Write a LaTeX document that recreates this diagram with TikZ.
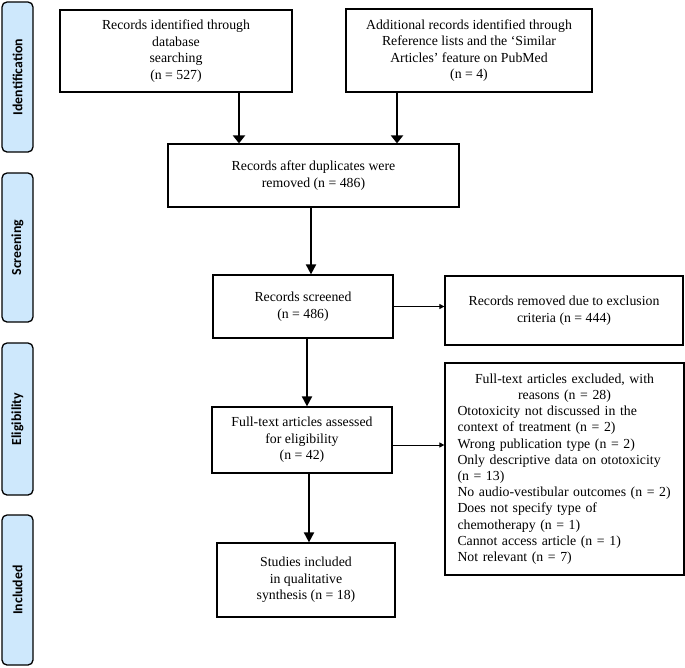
\documentclass[tikz,border=0pt]{standalone}
\usepackage{fontspec}
\setmainfont{Liberation Serif}
\newfontfamily\lblfont{Carlito}
\usetikzlibrary{arrows.meta}
\definecolor{phasefill}{RGB}{206,232,252}
\begin{document}
\begin{tikzpicture}[x=1pt,y=-1pt,
  phase/.style={draw=black,line width=1.3pt,fill=phasefill,rounded corners=5pt,rotate=90,
    minimum height=31pt,inner sep=0pt,font=\lblfont\bfseries\fontsize{13.8}{16}\selectfont},
  flowbox/.style={draw=black,line width=1.2pt,inner sep=0pt,align=center,
    font=\fontsize{13.8}{16.5}\selectfont},
  bigarrow/.style={line width=2.2pt,-{Triangle[width=12pt,length=8pt]}},
  midarrow/.style={line width=1.8pt,-{Triangle[width=10pt,length=10pt]}},
  thinarrow/.style={line width=1pt,-{Triangle[width=5pt,length=5pt]}}]
\useasboundingbox (0,0) rectangle (685,667);

% phase labels
\node[phase,minimum width=150pt] (pid) at (17.5,77) {Identification};
\node[phase,minimum width=149pt] (psc) at (17.5,247.5) {Screening};
\node[phase,minimum width=152pt] (pel) at (17.5,419) {Eligibility};
\node[phase,minimum width=150pt] (pin) at (17.5,590) {Included};

% boxes
\node[flowbox,minimum width=232pt,minimum height=82pt] (b1) at (176,51)
  {Records identified through\\database\\searching\\(n = 527)};
\node[flowbox,minimum width=246pt,minimum height=83pt] (b2) at (469,50.5)
  {Additional records identified through\\Reference lists and the ‘Similar\\Articles’ feature on PubMed\\(n = 4)};
\node[flowbox,minimum width=291pt,minimum height=63pt] (b3) at (313.5,175.5)
  {Records after duplicates were\\removed (n = 486)};
\node[flowbox,minimum width=180pt,minimum height=63pt] (b4) at (303,306.5)
  {Records screened\\(n = 486)};
\node[flowbox,minimum width=238pt,minimum height=69pt] (b5) at (564,310.5)
  {Records removed due to exclusion\\criteria (n = 444)};
\node[flowbox,minimum width=180pt,minimum height=66pt] (b6) at (302,440)
  {Full-text articles assessed\\for eligibility\\(n = 42)};
\node[flowbox,minimum width=239pt,minimum height=212pt,text width=214pt,
  font=\fontsize{13.8}{16.2}\selectfont,align=left] (b7) at (564.5,469)
  {\centering Full-text articles excluded, with\\reasons (n = 28)\par
   \raggedright Ototoxicity not discussed in the\\
   context of treatment (n = 2)\\
   Wrong publication type (n = 2)\\
   Only descriptive data on ototoxicity\\
   (n = 13)\\
   No audio-vestibular outcomes (n = 2)\\
   Does not specify type of\\
   chemotherapy (n = 1)\\
   Cannot access article (n = 1)\\
   Not relevant (n = 7)\par};
\node[flowbox,minimum width=178pt,minimum height=74pt] (b8) at (306,580)
  {Studies included\\in qualitative\\synthesis (n = 18)};

% connectors
\draw[bigarrow] ([xshift=63pt]b1.south) -- ([xshift=63pt]b1.south |- b3.north);
\draw[bigarrow] ([xshift=-72pt]b2.south) -- ([xshift=-72pt]b2.south |- b3.north);
\draw[midarrow] ([xshift=8pt]b4.north |- b3.south) -- ([xshift=8pt]b4.north);
\draw[thinarrow] (b4.east) -- (b4.east -| b5.west);
\draw[midarrow] ([xshift=4pt]b4.south) -- ([xshift=4pt]b4.south |- b6.north);
\draw[thinarrow] ([yshift=-5pt]b6.east) -- ([yshift=-5pt]b6.east -| b7.west);
\draw[midarrow] ([xshift=7pt]b6.south) -- ([xshift=7pt]b6.south |- b8.north);
\end{tikzpicture}
\end{document}
